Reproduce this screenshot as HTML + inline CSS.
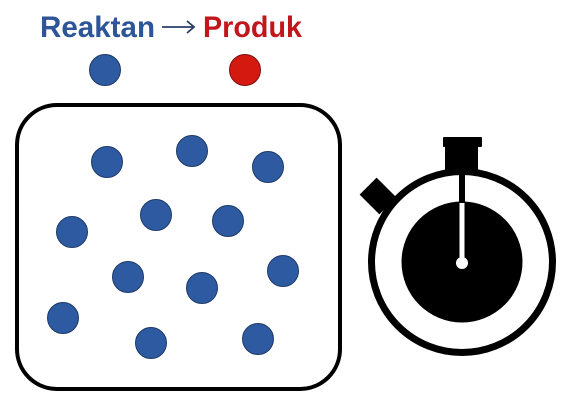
<!DOCTYPE html>
<html><head><meta charset="utf-8"><style>html,body{margin:0;padding:0;background:#fff}svg{display:block}</style></head>
<body>
<svg width="573" height="405" viewBox="0 0 573 405">
<rect width="573" height="405" fill="#fff"/>
<text x="40" y="37" font-family="Liberation Sans, sans-serif" font-weight="bold" font-size="30" fill="#2e5597" textLength="115" lengthAdjust="spacingAndGlyphs">Reaktan</text>
<g stroke="#2a3f66" stroke-width="1.8" fill="none">
<line x1="162" y1="27" x2="194" y2="27"/>
<polyline points="187,21 194,27 187,33"/>
</g>
<text x="203" y="37" font-family="Liberation Sans, sans-serif" font-weight="bold" font-size="30" fill="#c0161c" textLength="99" lengthAdjust="spacingAndGlyphs">Produk</text>
<circle cx="105" cy="70" r="15.5" fill="#2d5aa0" stroke="#1e3a66" stroke-width="1"/>
<circle cx="245" cy="70" r="15.5" fill="#d41a10" stroke="#7a1010" stroke-width="1"/>
<rect x="17" y="105" width="323" height="284" rx="40" fill="none" stroke="#000" stroke-width="4"/>
<g id="dots"></g>
<g>
<rect x="445" y="144" width="33" height="28" fill="#000"/>
<rect x="443" y="137" width="39" height="10" rx="1" fill="#000"/>
<rect x="-12" y="-14" width="24" height="28" fill="#000" transform="translate(378,196) rotate(-45)"/>
<circle cx="462" cy="262" r="90.5" fill="#fff" stroke="#000" stroke-width="7"/>
<circle cx="462" cy="262" r="60.5" fill="#000"/>
<line x1="462" y1="168" x2="462" y2="203" stroke="#000" stroke-width="6"/>
<line x1="462" y1="203" x2="462" y2="262" stroke="#fff" stroke-width="5"/>
<circle cx="462" cy="263" r="6" fill="#fff"/>
</g>
</svg>
<script>
const molX=[107,192,268,72,156,228,128,202,283,63,151,258];
const molY=[162,151,167,232,215,221,277,288,271,318,343,339];
const g=document.getElementById('dots');
for(let i=0;i<molX.length;i++){
  const c=document.createElementNS('http://www.w3.org/2000/svg','circle');
  c.setAttribute('cx',molX[i]);c.setAttribute('cy',molY[i]);c.setAttribute('r',15.5);
  c.setAttribute('fill','#2d5aa0');c.setAttribute('stroke','#1e3a66');c.setAttribute('stroke-width',1);
  
  
  g.appendChild(c);
}
</script>
</body></html>
